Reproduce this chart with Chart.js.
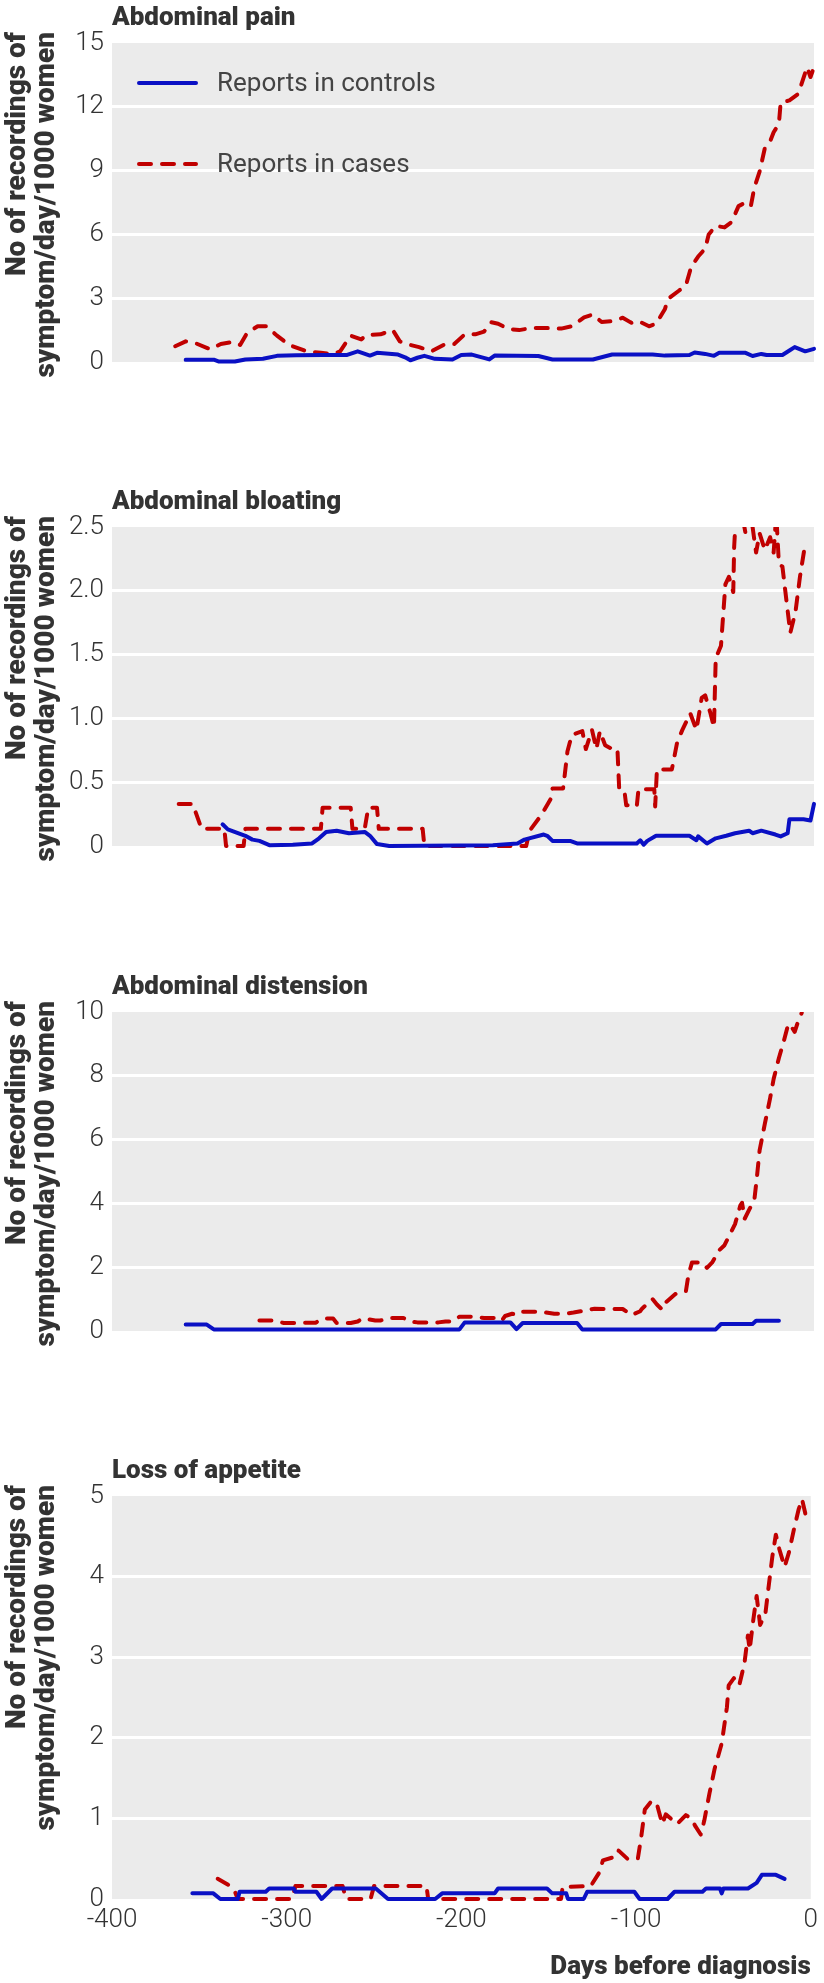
<!DOCTYPE html>
<html>
<head>
<meta charset="utf-8">
<script src="https://cdn.jsdelivr.net/npm/chart.js@4.4.1/dist/chart.umd.min.js"></script>
<style>
  html, body { margin: 0; padding: 0; background: #fff; }
  body { width: 824px; height: 1983px; position: relative; overflow: hidden; }
  canvas { position: absolute; left: 0; }
</style>
</head>
<body>
<canvas id="pain" width="824" height="476" style="top:0px"></canvas>
<canvas id="bloating" width="824" height="476" style="top:484px"></canvas>
<canvas id="distension" width="824" height="476" style="top:969px"></canvas>
<canvas id="appetite" width="824" height="530" style="top:1453px"></canvas>
<script>
// days before diagnosis (x) and recordings/day/1000 women (y)

// Abdominal pain
const painCtrlDays = [-358,-342,-339,-330,-324,-314,-306,-295,-280,-266,
  -260,-253,-249,-237,-233,-230,-226,-222,-216,-206,
  -201,-195,-185,-182,-157,-149,-126,-115,-92,-85,
  -71,-68,-62,-57,-54,-39,-35,-30,-27,-18,
  -14,-11,-5,0];
const painCtrlRate = [0.10,0.11,0.02,0.02,0.12,0.15,0.29,0.32,0.33,0.33,
  0.50,0.30,0.43,0.35,0.22,0.08,0.20,0.29,0.15,0.12,
  0.33,0.35,0.12,0.30,0.28,0.12,0.12,0.35,0.35,0.30,
  0.33,0.45,0.38,0.29,0.43,0.43,0.28,0.38,0.33,0.33,
  0.54,0.70,0.50,0.62];
const painCaseDays = [-364,-358,-352,-344,-338,-331,-327,-323,-317,-312,
  -306,-299,-289,-281,-274,-270,-264,-258,-255,-247,
  -240,-236,-230,-225,-218,-210,-205,-199,-193,-188,
  -184,-180,-174,-168,-161,-153,-144,-138,-131,-126,
  -121,-115,-109,-104,-100,-94,-90,-85,-83,-77,
  -73,-70,-66,-62,-60,-56,-51,-47,-43,-39,
  -36,-34,-31,-28,-25,-23,-20,-19,-14,-9,
  -7,-4,-2,0];
const painCaseRate = [0.74,0.97,0.87,0.60,0.85,0.94,0.80,1.37,1.68,1.68,
  1.24,0.80,0.50,0.43,0.37,0.50,1.24,1.06,1.27,1.30,
  1.50,0.97,0.80,0.70,0.50,0.85,0.85,1.30,1.30,1.43,
  1.87,1.80,1.55,1.50,1.60,1.60,1.57,1.68,2.10,2.23,
  1.88,1.92,2.08,1.84,1.92,1.68,1.80,2.48,2.98,3.35,
  3.60,4.47,4.96,5.33,6.00,6.40,6.33,6.58,7.33,7.50,
  7.33,8.20,8.95,10.06,10.38,10.80,11.20,12.20,12.30,12.60,
  13.10,13.86,13.40,13.86];

// Abdominal bloating
const bloatCtrlDays = [-337,-334,-324,-320,-316,-310,-297,-286,-282,-278,
  -272,-265,-256,-253,-249,-242,-183,-169,-165,-154,
  -152,-149,-139,-135,-101,-99,-97,-95,-90,-71,
  -67,-66,-61,-56,-50,-45,-37,-35,-30,-22,
  -19,-15,-14,-6,-2,0];
const bloatCtrlRate = [0.17,0.13,0.08,0.05,0.04,0.005,0.01,0.02,0.06,0.11,
  0.12,0.10,0.11,0.08,0.015,0,0.005,0.02,0.05,0.09,
  0.08,0.04,0.04,0.02,0.02,0.045,0.01,0.04,0.08,0.08,
  0.045,0.075,0.02,0.06,0.08,0.10,0.12,0.10,0.12,0.09,
  0.075,0.10,0.21,0.21,0.20,0.33];
const bloatCaseDays = [-362,-354,-349,-336,-335,-325,-324,-281,-280,-264,
  -263,-256,-254,-249,-248,-223,-222,-164,-162,-155,
  -150,-149,-143,-142,-140.5,-138,-132,-130,-126.5,-124,
  -122,-119,-115,-112,-111,-108,-107,-101,-100,-91,
  -90.5,-89.5,-81,-78,-75,-70.5,-67,-64,-62,-59,
  -57,-56,-53,-50.5,-48.5,-46,-45.5,-44.5,-41,-39,
  -36,-33,-31,-28,-25,-23,-21.5,-20,-18,-15.5,
  -13.5,-10.5,-8,-5];
const bloatCaseRate = [0.33,0.33,0.135,0.135,0,0,0.135,0.135,0.30,0.30,
  0.135,0.135,0.30,0.30,0.135,0.135,0,0,0.12,0.25,
  0.37,0.45,0.45,0.56,0.74,0.87,0.90,0.76,0.91,0.76,
  0.90,0.79,0.76,0.76,0.445,0.43,0.32,0.31,0.445,0.445,
  0.31,0.60,0.60,0.81,0.91,1.04,0.91,1.16,1.18,1.04,
  0.93,1.47,1.57,2.05,2.11,1.99,2.34,2.60,2.60,2.45,
  2.60,2.30,2.45,2.32,2.42,2.30,2.60,2.21,2.19,1.90,
  1.67,1.84,2.11,2.37];

// Abdominal distension
const distCtrlDays = [-358,-346,-342,-202,-199,-173,-169.5,-166,-135,-132,-56,-53,-35,-33,-20];
const distCtrlRate = [0.20,0.20,0.05,0.05,0.27,0.27,0.06,0.25,0.25,0.05,0.05,0.22,0.22,0.32,0.32];
const distCaseDays = [-316,-308,-302,-297,-290,-284,-280,-274,-272,-264,
  -260,-257,-250,-247,-242,-234,-230,-226,-214,-210,
  -206,-202,-196,-188,-181,-178,-176,-172,-169,-166,
  -155,-148,-142,-137,-133,-125,-119,-109,-104,-99,
  -98,-92,-89.5,-86.5,-84,-79,-73,-72,-71,-69.5,
  -64,-61,-58,-54,-51,-48,-45,-42,-41,-39.5,
  -36.5,-34,-32.5,-31,-28,-25,-23,-20,-17,-15,
  -14,-11,-8.5,-7];
const distCaseRate = [0.33,0.33,0.25,0.25,0.26,0.26,0.39,0.39,0.25,0.25,
  0.30,0.40,0.33,0.33,0.41,0.41,0.30,0.27,0.27,0.30,
  0.30,0.45,0.45,0.41,0.41,0.32,0.47,0.54,0.50,0.60,
  0.60,0.54,0.54,0.58,0.62,0.70,0.69,0.69,0.50,0.62,
  0.70,1.00,0.83,0.67,0.92,1.16,1.24,1.60,1.86,2.15,
  2.15,1.98,2.15,2.53,2.69,3.02,3.35,3.93,4.02,3.52,
  3.85,4.10,4.84,5.66,6.50,7.30,7.90,8.56,9.13,9.55,
  9.63,9.38,9.80,9.97];

// Loss of appetite
const appCtrlDays = [-354,-342,-338,-328,-327,-312,-310,-296,-295,-283,
  -280,-274,-249,-242,-215,-211,-181,-179,-151,-148,
  -140,-139,-130,-128,-101,-98,-82,-78,-62,-60,
  -52,-51,-50,-36,-31,-28,-20,-15];
const appCtrlRate = [0.07,0.07,0,0,0.09,0.09,0.13,0.13,0.09,0.09,
  0,0.13,0.13,0,0,0.07,0.07,0.13,0.13,0.07,
  0.07,0,0,0.09,0.09,0,0,0.09,0.09,0.13,
  0.13,0.07,0.13,0.13,0.20,0.30,0.30,0.25];
const appCaseDays = [-339.5,-333,-330,-328,-297,-295,-268,-266,-252,-250,
  -220,-219,-143,-142,-126,-121,-119,-111,-110,-105,
  -99,-97,-95,-91,-88,-85,-83,-76.5,-71.5,-68.5,
  -66,-63,-61,-58,-55,-51,-48,-47,-44,-41,
  -38,-36,-35,-33,-31,-29,-26,-24,-22,-20,
  -18,-15,-12.5,-9.5,-7,-5,-3,0];
const appCaseRate = [0.25,0.17,0.11,0,0,0.16,0.16,0,0,0.16,
  0.16,0,0,0.15,0.16,0.33,0.48,0.53,0.60,0.50,
  0.50,0.78,1.11,1.22,1.17,0.93,1.05,0.93,1.04,1.00,
  0.90,0.80,0.97,1.31,1.62,1.93,2.38,2.65,2.74,2.65,
  2.92,3.27,3.09,3.45,3.76,3.40,3.54,3.90,4.25,4.52,
  4.34,4.12,4.30,4.60,4.83,4.96,4.77,4.85];

// tick labels
const xTickLabels = ['-400', '-300', '-200', '-100', '0'];
const painTicks = ['0', '3', '6', '9', '12', '15'];
const bloatTicks = ['0', '0.5', '1.0', '1.5', '2.0', '2.5'];
const distTicks = ['0', '2', '4', '6', '8', '10'];
const appTicks = ['0', '1', '2', '3', '4', '5'];

const seriesNames = ['Reports in controls', 'Reports in cases'];
const yTitle = ['No of recordings of', 'symptom/day/1000 women'];

const BLUE = '#0a10c4';
const RED = '#c00000';
const INK = '#333333';
const FAMILY = "Roboto, 'Open Sans', sans-serif";

Chart.defaults.font.family = FAMILY;
Chart.defaults.color = INK;

function toPoints(days, rates) {
  return days.map((d, i) => ({ x: d, y: rates[i] }));
}

// grey panel, panel title, rotated y title and the in-plot legend
const panelText = {
  id: 'panelText',
  beforeDraw(chart) {
    const { ctx, chartArea: a } = chart;
    ctx.save();
    ctx.fillStyle = '#ebebeb';
    ctx.fillRect(a.left, a.top, a.right - a.left, a.bottom - a.top);
    ctx.restore();
  },
  afterDraw(chart, args, opts) {
    const { ctx, chartArea: a } = chart;
    ctx.save();
    ctx.fillStyle = INK;
    ctx.textAlign = 'left';
    ctx.textBaseline = 'alphabetic';
    ctx.font = '900 26px ' + FAMILY;
    ctx.fillText(opts.title, a.left, a.top - 18);

    ctx.save();
    ctx.translate(0, a.top - 11);
    ctx.rotate(-Math.PI / 2);
    ctx.textAlign = 'right';
    ctx.font = '900 28px ' + FAMILY;
    ctx.fillText(yTitle[0], 0, 25);
    ctx.fillText(yTitle[1], 0, 54);
    ctx.restore();

    if (opts.legend) {
      const rows = [[BLUE, [], 83], [RED, [12, 11], 164]];
      rows.forEach((r, i) => {
        ctx.save();
        ctx.strokeStyle = r[0];
        ctx.lineWidth = 4;
        ctx.lineCap = 'round';
        ctx.setLineDash(r[1]);
        ctx.beginPath();
        ctx.moveTo(139, r[2]);
        ctx.lineTo(196, r[2]);
        ctx.stroke();
        ctx.restore();
        ctx.fillStyle = '#444';
        ctx.font = '26px ' + FAMILY;
        ctx.textBaseline = 'middle';
        ctx.fillText(seriesNames[i], 217, r[2] + 1);
      });
    }
    ctx.restore();
  }
};

function makePanel(id, p) {
  const last = p.ticks.length - 1;
  return new Chart(document.getElementById(id), {
    type: 'line',
    data: {
      datasets: [
        { label: seriesNames[0], data: toPoints(p.ctrlDays, p.ctrlRate),
          borderColor: BLUE, borderWidth: 4, pointRadius: 0, tension: 0,
          borderJoinStyle: 'round', borderCapStyle: 'round',
          clip: { left: 4, right: 4, top: 0, bottom: 4 } },
        { label: seriesNames[1], data: toPoints(p.caseDays, p.caseRate),
          borderColor: RED, borderWidth: 4, borderDash: [12, 11], pointRadius: 0, tension: 0,
          borderJoinStyle: 'round', borderCapStyle: 'round',
          clip: { left: 4, right: 4, top: 0, bottom: 4 } }
      ]
    },
    options: {
      responsive: false,
      animation: false,
      devicePixelRatio: 1,
      layout: { padding: { top: 43, right: 10, bottom: p.xAxis ? 0 : 30, left: 0 } },
      plugins: {
        legend: { display: false },
        tooltip: { enabled: false },
        panelText: { title: p.title, legend: !!p.legend }
      },
      scales: {
        x: {
          type: 'linear', min: -400, max: 0,
          display: !!p.xAxis,
          ticks: { stepSize: 100, autoSkip: false, maxRotation: 0, padding: 6,
                   font: { size: 26, weight: 300 }, color: INK,
                   callback: (v, i) => xTickLabels[i] },
          grid: { display: false, drawTicks: false },
          border: { display: false },
          title: { display: true, text: 'Days before diagnosis', align: 'end',
                   font: { size: 26, weight: 900 }, color: INK, padding: 0 },
          afterFit: s => { s.height = 84; }
        },
        y: {
          min: 0, max: p.max,
          ticks: { stepSize: p.step, padding: 8, font: { size: 26, weight: 300 }, color: INK,
                   callback: (v, i) => p.ticks[i] },
          grid: { color: c => (c.index === 0 || c.index === last) ? 'rgba(0,0,0,0)' : '#ffffff',
                  lineWidth: 3, drawTicks: false },
          border: { display: false },
          afterFit: s => { s.width = 112; }
        }
      }
    },
    plugins: [panelText]
  });
}

makePanel('pain', { title: 'Abdominal pain', legend: true, max: 15, step: 3, ticks: painTicks,
  ctrlDays: painCtrlDays, ctrlRate: painCtrlRate, caseDays: painCaseDays, caseRate: painCaseRate });
makePanel('bloating', { title: 'Abdominal bloating', max: 2.5, step: 0.5, ticks: bloatTicks,
  ctrlDays: bloatCtrlDays, ctrlRate: bloatCtrlRate, caseDays: bloatCaseDays, caseRate: bloatCaseRate });
makePanel('distension', { title: 'Abdominal distension', max: 10, step: 2, ticks: distTicks,
  ctrlDays: distCtrlDays, ctrlRate: distCtrlRate, caseDays: distCaseDays, caseRate: distCaseRate });
makePanel('appetite', { title: 'Loss of appetite', max: 5, step: 1, ticks: appTicks, xAxis: true,
  ctrlDays: appCtrlDays, ctrlRate: appCtrlRate, caseDays: appCaseDays, caseRate: appCaseRate });
</script>
</body>
</html>
